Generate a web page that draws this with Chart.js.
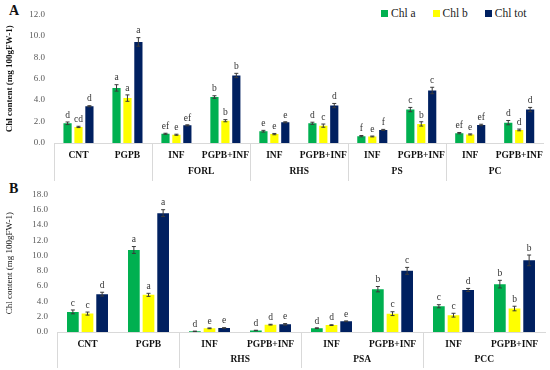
<!DOCTYPE html>
<html>
<head>
<meta charset="utf-8">
<script src="https://cdn.jsdelivr.net/npm/chart.js@4.4.1/dist/chart.umd.min.js"></script>
<style>
  body { margin: 0; background: #fff; width: 550px; height: 370px; position: relative; overflow: hidden; font-family: "Liberation Serif", serif; }
  .panel { position: absolute; left: 0; width: 550px; }
  .tag { position: absolute; left: 9px; font-weight: bold; font-size: 14px; color: #111; }
  #legend { position: absolute; top: 7px; left: 381px; font-size: 11.5px; color: #222; display: flex; gap: 17px; white-space: nowrap; }
  #legend span.box { display: inline-block; width: 7px; height: 7px; margin-right: 3px; }
</style>
</head>
<body>
<div class="tag" style="top:3px">A</div>
<div class="tag" style="top:181px">B</div>
<div id="legend"></div>
<div class="panel" style="top:0;height:183px"><canvas id="chartA" width="550" height="183"></canvas></div>
<div class="panel" style="top:180px;height:190px"><canvas id="chartB" width="550" height="190"></canvas></div>
<script>
// series
const seriesNames = ['Chl a', 'Chl b', 'Chl tot'];
const seriesColors = ['#00b050', '#ffff00', '#002060'];
const yTitle = 'Chl content (mg 100gFW-1)';

// panel A
const aCategories = ['CNT', 'PGPB', 'INF', 'PGPB+INF', 'INF', 'PGPB+INF', 'INF', 'PGPB+INF', 'INF', 'PGPB+INF'];
const aGroups = ['', 'FORL', 'RHS', 'PS', 'PC'];
const aGroupSizes = [2, 2, 2, 2, 2];
const aChlA   = [1.84, 5.14, 0.86, 4.29, 1.10, 1.84, 0.64, 3.12, 0.92, 1.90];
const aChlB   = [1.50, 4.19, 0.77, 2.08, 0.83, 1.62, 0.61, 1.78, 0.80, 1.22];
const aChlTot = [3.43, 9.43, 1.65, 6.30, 1.93, 3.49, 1.22, 4.90, 1.68, 3.12];
const aErrA   = [0.12, 0.30, 0.05, 0.12, 0.08, 0.10, 0.06, 0.20, 0.06, 0.20];
const aErrB   = [0.06, 0.30, 0.05, 0.10, 0.06, 0.15, 0.04, 0.20, 0.05, 0.08];
const aErrTot = [0.05, 0.40, 0.05, 0.20, 0.05, 0.20, 0.05, 0.30, 0.07, 0.20];
const aLetA   = ['d', 'a', 'ef', 'b', 'e', 'd', 'f', 'c', 'ef', 'd'];
const aLetB   = ['cd', 'a', 'e', 'b', 'e', 'c', 'e', 'b', 'e', 'd'];
const aLetTot = ['d', 'a', 'ef', 'b', 'e', 'd', 'f', 'c', 'ef', 'd'];
const aTicks  = [0, 2, 4, 6, 8, 10, 12];

// panel B
const bCategories = ['CNT', 'PGPB', 'INF', 'PGPB+INF', 'INF', 'PGPB+INF', 'INF', 'PGPB+INF'];
const bGroups = ['', 'RHS', 'PSA', 'PCC'];
const bGroupSizes = [2, 2, 2, 2];
const bChlA   = [2.63, 10.73, 0.09, 0.20, 0.50, 5.60, 3.37, 6.26];
const bChlB   = [2.41, 4.86, 0.48, 0.96, 0.90, 2.40, 2.20, 3.07];
const bChlTot = [4.95, 15.55, 0.53, 1.00, 1.40, 8.00, 5.50, 9.37];
const bErrA   = [0.25, 0.45, 0.03, 0.03, 0.05, 0.35, 0.20, 0.50];
const bErrB   = [0.20, 0.20, 0.05, 0.05, 0.05, 0.25, 0.25, 0.30];
const bErrTot = [0.25, 0.45, 0.03, 0.10, 0.05, 0.45, 0.20, 0.70];
const bLetA   = ['c', 'a', 'd', 'd', 'd', 'b', 'c', 'b'];
const bLetB   = ['c', 'a', 'e', 'd', 'd', 'c', 'c', 'b'];
const bLetTot = ['d', 'a', 'e', 'e', 'e', 'c', 'd', 'b'];
const bTicks  = [0, 2, 4, 6, 8, 10, 12, 14, 16, 18];

const serif = '"Liberation Serif", "Times New Roman", serif';

// legend (html, sits over panel A)
const legendEl = document.getElementById('legend');
seriesNames.forEach((name, i) => {
    const item = document.createElement('div');
    item.innerHTML = '<span class="box" style="background:' + seriesColors[i] + '"></span>' + name;
    legendEl.appendChild(item);
});

// error bars, letters, group labels under the axis
const annotPlugin = {
    id: 'annot',
    afterDatasetsDraw(chart, args, opts) {
        const ctx = chart.ctx;
        const y = chart.scales.y;
        ctx.save();
        chart.data.datasets.forEach((ds, i) => {
            const meta = chart.getDatasetMeta(i);
            meta.data.forEach((bar, j) => {
                const v = ds.data[j];
                const e = opts.errors[i][j];
                const top = y.getPixelForValue(v + e);
                const bot = y.getPixelForValue(Math.max(v - e, 0));
                ctx.strokeStyle = '#3a3a3a';
                ctx.lineWidth = 1;
                ctx.beginPath();
                ctx.moveTo(bar.x, top); ctx.lineTo(bar.x, bot);
                ctx.moveTo(bar.x - 2, top); ctx.lineTo(bar.x + 2, top);
                ctx.moveTo(bar.x - 2, bot); ctx.lineTo(bar.x + 2, bot);
                ctx.stroke();
                ctx.fillStyle = '#333';
                ctx.font = '9.5px ' + serif;
                ctx.textAlign = 'center';
                ctx.textBaseline = 'bottom';
                ctx.fillText(opts.letters[i][j], bar.x, top - 2);
            });
        });
        ctx.restore();
    },
    afterDraw(chart, args, opts) {
        const ctx = chart.ctx;
        const x = chart.scales.x;
        const half = (x.getPixelForValue(1) - x.getPixelForValue(0)) / 2;
        const axisY = chart.chartArea.bottom;
        const bottom = chart.height - 2;
        ctx.save();
        ctx.strokeStyle = '#d9d9d9';
        ctx.lineWidth = 1;
        ctx.fillStyle = '#111';
        ctx.font = 'bold 9.5px ' + serif;
        ctx.textAlign = 'center';
        ctx.textBaseline = 'middle';
        let idx = 0;
        opts.groups.forEach((name, g) => {
            const n = opts.sizes[g];
            const left = Math.round(x.getPixelForValue(idx) - half) + 0.5;
            const right = x.getPixelForValue(idx + n - 1) + half;
            ctx.beginPath();
            ctx.moveTo(left, axisY); ctx.lineTo(left, bottom);
            ctx.stroke();
            if (name) ctx.fillText(name, (left + right) / 2, axisY + opts.groupOffset);
            idx += n;
        });
        ctx.restore();
    }
};

function makeChart(id, cats, vals, errs, lets, groups, sizes, ticks, cfg) {
    return new Chart(document.getElementById(id), {
        type: 'bar',
        data: {
            labels: cats,
            datasets: seriesNames.map((name, i) => ({
                label: name,
                data: vals[i],
                backgroundColor: seriesColors[i],
                categoryPercentage: cfg.catPct,
                barPercentage: cfg.barPct
            }))
        },
        options: {
            responsive: false,
            animation: false,
            layout: { padding: { top: cfg.padTop, right: 5, left: 0, bottom: 0 } },
            plugins: {
                legend: { display: false },
                tooltip: { enabled: false },
                annot: { errors: errs, letters: lets, groups: groups, sizes: sizes, groupOffset: cfg.groupOffset }
            },
            scales: {
                x: {
                    grid: { display: false, drawTicks: false },
                    border: { display: true, color: '#d9d9d9' },
                    ticks: { color: '#111', font: { family: serif, size: 9.5, weight: 'bold' }, padding: 7, maxRotation: 0, autoSkip: false },
                    afterFit: s => { s.height = cfg.xHeight; }
                },
                y: {
                    min: 0,
                    max: ticks[ticks.length - 1],
                    afterBuildTicks: s => { s.ticks = ticks.map(v => ({ value: v })); },
                    grid: { display: false, drawTicks: false },
                    border: { display: false },
                    ticks: { color: '#595959', font: { family: serif, size: 9 }, padding: 9, callback: v => v.toFixed(1) },
                    title: { display: true, text: yTitle, color: '#111', font: { family: serif, size: 9, weight: cfg.titleWeight }, padding: { top: 4, bottom: 0 } },
                    afterFit: s => { s.width = cfg.yWidth; }
                }
            }
        },
        plugins: [annotPlugin]
    });
}

makeChart('chartA', aCategories,
    [aChlA, aChlB, aChlTot], [aErrA, aErrB, aErrTot], [aLetA, aLetB, aLetTot],
    aGroups, aGroupSizes, aTicks,
    { catPct: 0.67, barPct: 0.75, padTop: 8, xHeight: 40, yWidth: 54, groupOffset: 29, titleWeight: 'bold' });

makeChart('chartB', bCategories,
    [bChlA, bChlB, bChlTot], [bErrA, bErrB, bErrTot], [bLetA, bLetB, bLetTot],
    bGroups, bGroupSizes, bTicks,
    { catPct: 0.72, barPct: 0.8, padTop: 10, xHeight: 38, yWidth: 57, groupOffset: 28, titleWeight: 'normal' });
</script>
</body>
</html>
